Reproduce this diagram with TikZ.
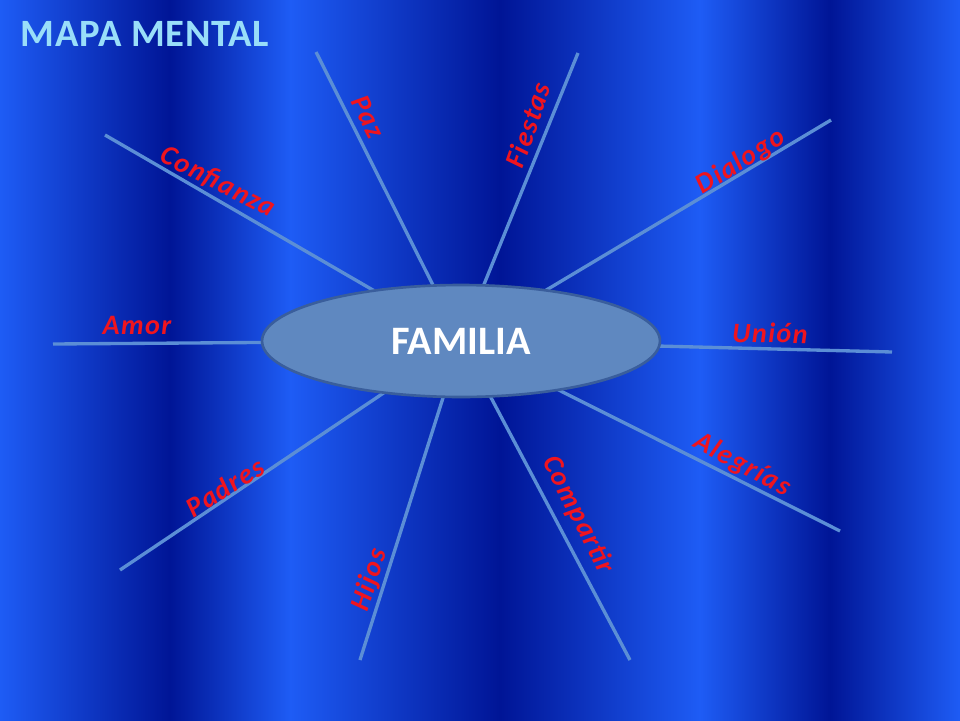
\documentclass[tikz,border=0pt]{standalone}
\usepackage{fontspec}
\setmainfont{Carlito}
\usetikzlibrary{shapes.geometric}
\definecolor{dk}{HTML}{001596}
\definecolor{br}{HTML}{1E5CF5}
\definecolor{ln}{HTML}{5B8ED6}
\definecolor{lab}{HTML}{F0141E}
\definecolor{ell}{HTML}{5F88C0}
\definecolor{elb}{HTML}{3A5E9C}
\tikzset{x=0.02cm,y=-0.02cm,
 spoke/.style={draw=ln,line width=1.9pt},
 lbl/.style={text=lab,font=\addfontfeatures{LetterSpace=5}\fontsize{16}{16}\selectfont\bfseries\itshape,inner sep=0pt}}
\begin{document}
\begin{tikzpicture}
\useasboundingbox (0,0) rectangle (960,720);
% background bands
\shade[left color=br,right color=dk] (0,0) rectangle (170,720);
\shade[left color=dk,right color=br] (170,0) rectangle (290,720);
\shade[left color=br,right color=dk] (290,0) rectangle (500,720);
\shade[left color=dk,right color=br] (500,0) rectangle (700,720);
\shade[left color=br,right color=dk] (700,0) rectangle (830,720);
\shade[left color=dk,right color=br] (830,0) rectangle (960,720);
% title
\node (title) at (145,34) {\color{cyan!40!white}\addfontfeatures{LetterSpace=2}\fontsize{22}{22}\selectfont\bfseries MAPA MENTAL};
% center
\coordinate (c) at (461,341);
\coordinate (e1) at (105,135);
\coordinate (e2) at (316,52);
\coordinate (e3) at (578,53);
\coordinate (e4) at (831,120);
\coordinate (e5) at (892,352);
\coordinate (e6) at (840,531);
\coordinate (e7) at (630,660);
\coordinate (e8) at (360,660);
\coordinate (e9) at (120,570);
\coordinate (e10) at (53,344);
\foreach \e in {e1,e2,e3,e4,e5,e6,e7,e8,e9,e10} \draw[spoke] (c) -- (\e);
\node[ellipse,draw=elb,line width=1.5pt,fill=ell,minimum width=7.96cm,minimum height=2.24cm] (fam) at (c) {\color{white}\fontsize{23}{23}\selectfont\bfseries FAMILIA};
% labels
\node[lbl,rotate=-27] (l1) at (218,182) {Confianza};
\node[lbl,rotate=-63] (l2) at (368,117) {Paz};
\node[lbl,rotate=71] (l3) at (528,125) {Fiestas};
\node[lbl,rotate=32] (l4) at (741,162) {Dialogo};
\node[lbl,rotate=-1] (l5) at (770,333) {Unión};
\node[lbl,rotate=-28] (l6) at (742,465) {Alegrías};
\node[lbl,rotate=-63] (l7) at (578,515) {Compartir};
\node[lbl,rotate=72] (l8) at (370,580) {Hijos};
\node[lbl,rotate=32] (l9) at (225,487) {Padres};
\node[lbl] (l10) at (137,325) {Amor};
\end{tikzpicture}
\end{document}
